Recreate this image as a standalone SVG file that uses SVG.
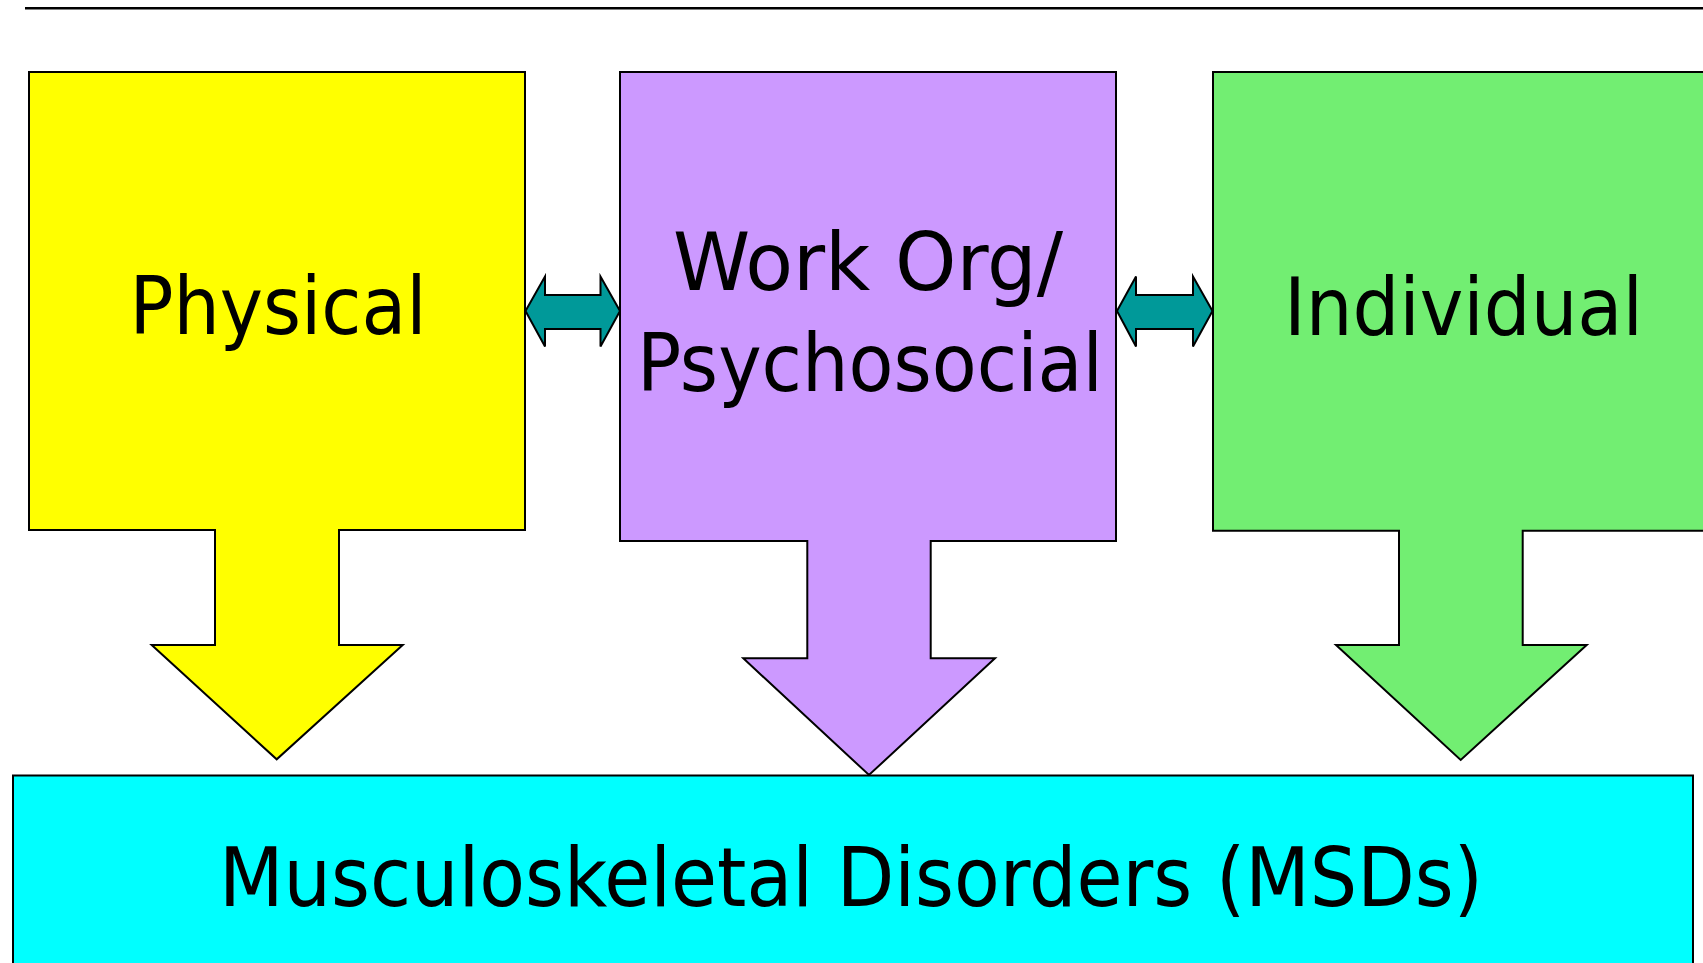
<svg xmlns="http://www.w3.org/2000/svg" width="1703" height="963" viewBox="0 0 1703 963">
<style>
.shape{stroke:#000;stroke-width:2;stroke-linejoin:miter}
.lbl{font-family:'DejaVu Sans Condensed','DejaVu Sans',sans-serif;font-stretch:condensed;fill:#000;text-anchor:middle}
.conn{fill:#009999;stroke:#000;stroke-width:2}
</style>
<rect width="1703" height="963" fill="#fff"/>
<line x1="25" y1="8.3" x2="1703" y2="8.3" stroke="#000" stroke-width="2.5"/>
<g id="msds">
<rect class="shape" x="13" y="775.5" width="1680" height="220" fill="#00FFFF"/>
<text class="lbl" x="851" y="906" font-size="82" textLength="1264" lengthAdjust="spacingAndGlyphs">Musculoskeletal Disorders (MSDs)</text>
</g>
<g id="physical">
<path class="shape" fill="#FFFF00" d="M29,72 H525 V530 H339 V645 H402.7 L276.7,759.3 L151.7,645 H215 V530 H29 Z"/>
<text class="lbl" x="278" y="334" font-size="80" textLength="297" lengthAdjust="spacingAndGlyphs">Physical</text>
</g>
<g id="workorg">
<path class="shape" fill="#CC99FF" d="M620,72 H1116 V541 H930.7 V658.3 H995 L869,775 L743.3,658.3 H807.3 V541 H620 Z"/>
<text class="lbl" x="868" y="290" font-size="80" textLength="390" lengthAdjust="spacingAndGlyphs">Work Org/</text>
<text class="lbl" x="870" y="391" font-size="80" textLength="466" lengthAdjust="spacingAndGlyphs">Psychosocial</text>
</g>
<g id="individual">
<path class="shape" fill="#72EE72" d="M1213,72 H1720 V530.7 H1522.7 V645 H1586.7 L1460.7,760 L1336,645 H1399 V530.7 H1213 Z"/>
<text class="lbl" x="1463.5" y="335" font-size="80" textLength="359" lengthAdjust="spacingAndGlyphs">Individual</text>
</g>
<g id="connectors">
<polygon class="conn" points="525.5,311 545,276.5 545,295 600.5,295 600.5,276.5 620,311 600.5,346.5 600.5,329 545,329 545,346.5"/>
<polygon class="conn" points="1117,311 1136,276.5 1136,295 1193,295 1193,276.5 1212.5,311 1193,346.5 1193,329 1136,329 1136,346.5"/>
</g>
</svg>
